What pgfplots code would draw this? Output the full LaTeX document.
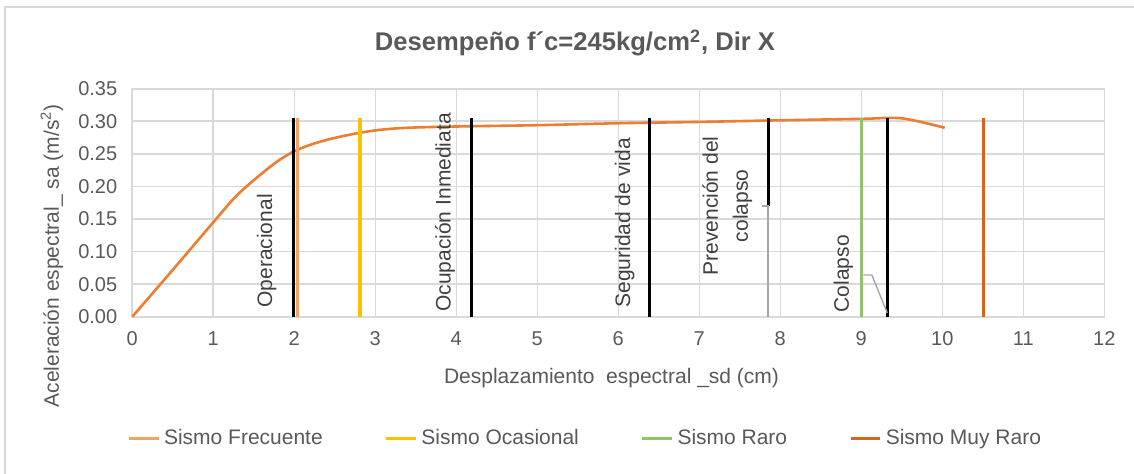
\documentclass[border=0pt]{standalone}
\usepackage{pgfplots}
\pgfplotsset{compat=1.18}
\usepackage{fontspec}
\setmainfont{Liberation Sans}
\definecolor{txt}{HTML}{595959}
\definecolor{lbl}{HTML}{404040}
\definecolor{gridc}{HTML}{D9D9D9}
\definecolor{curve}{HTML}{ED7D31}
\definecolor{frec}{HTML}{F4A166}
\definecolor{ocas}{HTML}{FFC000}
\definecolor{raro}{HTML}{8FC46A}
\definecolor{muyraro}{HTML}{D5651C}
\definecolor{leader}{HTML}{A6A6A6}
\begin{document}
\begin{tikzpicture}
\path[use as bounding box] (-66.15pt,-78.15pt) rectangle (500.85pt,158.35pt);
\draw[gridc, line width=0.8pt] (-63.65pt,-80pt) -- (-63.65pt,154.85pt) -- (510pt,154.85pt);
\begin{axis}[
    scale only axis,
    width=486pt, height=114pt,
    xmin=0, xmax=12, ymin=0, ymax=0.35,
    xtick={0,1,...,12},
    ytick={0,0.05,...,0.35},
    major tick length=0pt,
    grid=major,
    grid style={gridc, line width=0.8pt},
    axis line style={gridc, line width=0.8pt},
    tick label style={txt, font=\fontsize{10}{12}\selectfont},
    /pgf/number format/assume math mode=true,
    yticklabel style={xshift=-4pt, /pgf/number format/.cd, fixed, fixed zerofill, precision=2},
    xticklabel style={yshift=-4pt, /pgf/number format/.cd, fixed},
    xtick pos=bottom, ytick pos=left,
    xlabel={Desplazamiento\ \ espectral \_sd (cm)},
    ylabel={Aceleración espectral\_ sa (m/s\textsuperscript{2})},
    label style={txt, font=\fontsize{10.5}{12}\selectfont},
    xlabel style={at={(axis description cs:0.493,0)}, anchor=center, yshift=-30.6pt},
    ylabel style={at={(axis description cs:-0.0827,0.267)}, anchor=center, rotate=0},
    legend columns=4,
    legend style={draw=none, fill=none, at={(0.467,-0.532)}, anchor=center,
        font=\fontsize{10.5}{12}\selectfont, text=txt,
        /tikz/every even column/.append style={column sep=29pt}},
    legend image code/.code={\draw[#1, line width=1.5pt] (0cm,0cm) -- (0.52cm,0cm);},
    legend cell align=left,
    clip=false,
]
% curva de capacidad
\addplot[curve, line width=1.3pt, smooth, tension=0.5, forget plot] coordinates {
    (0,0) (0.5,0.072) (1,0.145) (1.25,0.181) (1.41,0.200) (1.66,0.226)
    (1.82,0.241) (2,0.254) (2.2,0.264) (2.45,0.273) (2.75,0.281) (3,0.286)
    (3.25,0.289) (3.5,0.2905) (4,0.292) (5,0.294) (6,0.297)
    (7,0.299) (8,0.3015) (9,0.3037) (9.5,0.3045) (10.03,0.290)
};
% puntos de desempeno (limites)
\addplot[black, line width=1.5pt, forget plot] coordinates {(1.99,0) (1.99,0.305)};
\addplot[black, line width=1.5pt, forget plot] coordinates {(4.19,0) (4.19,0.305)};
\addplot[black, line width=1.5pt, forget plot] coordinates {(6.39,0) (6.39,0.305)};
\addplot[black, line width=1.5pt, forget plot] coordinates {(7.85,0.17) (7.85,0.305)};
\addplot[black, line width=1.5pt, forget plot] coordinates {(9.32,0) (9.32,0.305)};
% sismos
\addplot[frec, line width=1.6pt] coordinates {(2.04,0) (2.04,0.305)};
\addlegendentry{Sismo Frecuente}
\addplot[ocas, line width=1.6pt] coordinates {(2.81,0) (2.81,0.305)};
\addlegendentry{Sismo Ocasional}
\addplot[raro, line width=1.6pt] coordinates {(9.005,0) (9.005,0.305)};
\addlegendentry{Sismo Raro}
\addplot[muyraro, line width=1.6pt] coordinates {(10.51,0) (10.51,0.305)};
\addlegendentry{Sismo Muy Raro}
% lineas guia de etiquetas
\addplot[leader, line width=0.7pt, forget plot] coordinates {(7.78,0.17) (7.85,0.17) (7.85,0)};
\addplot[leader, line width=0.7pt, forget plot] coordinates {(9.025,0.064) (9.13,0.064) (9.32,0.006)};
% etiquetas
\node[rotate=90, lbl, font=\fontsize{10.5}{12}\selectfont] at (axis cs:1.66,0.101) {Operacional};
\node[rotate=90, lbl, font=\fontsize{10.5}{12}\selectfont] at (axis cs:3.86,0.160) {Ocupación Inmediata};
\node[rotate=90, lbl, font=\fontsize{10.5}{12}\selectfont] at (axis cs:6.08,0.144) {Seguridad de vida};
\node[rotate=90, lbl, align=center, font=\fontsize{10.5}{15}\selectfont] at (axis cs:7.345,0.170) {Prevención del\\colapso};
\node[rotate=90, lbl, font=\fontsize{10.5}{12}\selectfont] at (axis cs:8.78,0.066) {Colapso};
\end{axis}
\node[txt, font=\bfseries\fontsize{12.8}{14}\selectfont] at (221.35pt,136.85pt) {Desempeño f´c=245kg/cm\textsuperscript{2}, Dir X};
\end{tikzpicture}
\end{document}
